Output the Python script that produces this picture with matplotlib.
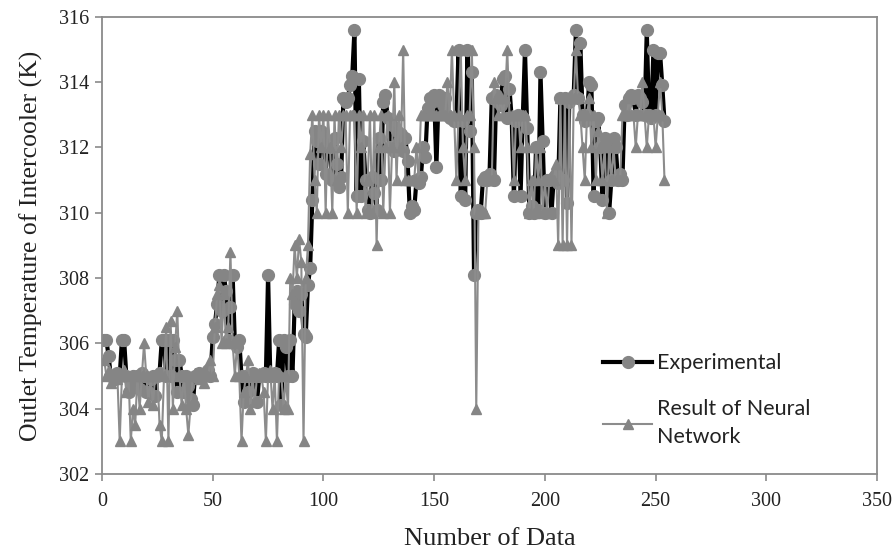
import numpy as np
import matplotlib
matplotlib.use("Agg")
import matplotlib.pyplot as plt

# Outlet temperature of the intercooler (K), one value per data sample
experimental = [
    306.1, 306.1, 305.6, 305.0, 305.0, 304.9, 305.1, 305.0, 306.1, 306.1,
    305.0, 304.5, 304.8, 305.0, 304.9, 305.0, 304.6, 305.1, 305.0, 304.5,
    304.5, 304.9, 305.0, 304.4, 305.0, 305.1, 306.1, 306.1, 305.0, 306.1,
    305.0, 306.1, 305.5, 304.5, 305.5, 305.0, 304.5, 305.0, 304.7, 304.3,
    304.1, 305.0, 305.0, 305.1, 305.0, 305.0, 305.1, 305.2, 305.0, 306.2,
    306.6, 307.2, 308.1, 307.0, 308.1, 307.6, 306.1, 307.1, 308.1, 306.0,
    305.9, 306.1, 305.0, 304.2, 305.0, 304.5, 305.0, 305.1, 305.0, 304.2,
    305.0, 305.0, 305.1, 305.0, 308.1, 305.0, 305.0, 305.1, 305.0, 306.1,
    304.1, 306.1, 305.9, 305.0, 306.1, 305.0, 307.2, 307.6, 307.0, 307.5,
    306.3, 306.2, 307.8, 308.3, 310.4, 312.5, 312.2, 311.5, 312.5, 312.3,
    311.2, 312.1, 312.0, 311.0, 312.3, 311.5, 310.8, 311.1, 313.5, 313.4,
    313.5, 313.9, 314.2, 315.6, 310.5, 314.1, 310.5, 312.2, 311.0, 310.1,
    310.0, 311.1, 310.6, 310.1, 312.3, 311.0, 313.4, 313.6, 312.9, 312.0,
    312.7, 311.9, 312.5, 312.2, 312.4, 311.9, 312.3, 311.6, 310.0, 310.2,
    310.1, 311.0, 310.9, 311.1, 312.0, 311.7, 313.2, 313.5, 313.4, 313.6,
    311.4, 313.6, 313.5, 313.3, 313.5, 313.0, 312.9, 312.9, 312.8, 312.8,
    315.0, 310.5, 312.8, 310.4, 315.0, 312.5, 314.3, 308.1, 310.0, 310.1,
    310.0, 311.0, 311.1, 311.0, 311.2, 313.5, 311.0, 313.6, 313.4, 313.3,
    314.1, 314.2, 312.9, 313.8, 312.9, 310.5, 312.8, 313.0, 310.5, 312.9,
    315.0, 312.6, 310.0, 310.2, 310.0, 312.0, 310.1, 314.3, 312.2, 310.0,
    311.0, 311.0, 310.0, 311.1, 311.2, 310.9, 313.5, 311.0, 313.5, 310.3,
    313.4, 313.5, 313.6, 315.6, 313.5, 315.2, 313.0, 312.8, 313.0, 314.0,
    313.9, 310.5, 312.8, 312.9, 312.0, 310.4, 312.3, 312.2, 310.0, 311.0,
    312.3, 312.0, 311.0, 311.2, 311.0, 313.3, 313.0, 313.5, 313.6, 313.5,
    313.0, 313.6, 313.5, 313.4, 313.0, 315.6, 313.0, 312.9, 315.0, 313.0,
    314.9, 314.9, 313.9, 312.8,
]

neural_network = [
    305.5, 305.0, 305.2, 304.8, 305.0, 305.1, 304.9, 303.0, 305.0, 305.2,
    304.5, 305.0, 303.0, 304.0, 303.5, 305.0, 304.0, 305.0, 306.0, 305.0,
    304.2, 305.0, 304.1, 305.0, 305.1, 303.5, 303.0, 305.0, 306.5, 303.0,
    306.7, 304.0, 305.9, 307.0, 305.0, 304.1, 305.0, 304.0, 303.2, 304.1,
    305.0, 305.1, 305.0, 304.9, 305.0, 304.8, 305.0, 305.0, 305.5, 305.0,
    306.5, 307.5, 307.8, 306.0, 307.5, 306.0, 306.5, 308.8, 306.0, 305.0,
    306.0, 305.0, 303.0, 304.5, 305.0, 305.5, 304.0, 305.0, 304.2, 305.0,
    305.1, 305.0, 304.5, 303.0, 305.0, 305.2, 304.0, 305.0, 303.0, 305.1,
    305.0, 304.0, 305.0, 304.0, 308.0, 307.5, 309.0, 308.0, 309.2, 308.5,
    303.0, 308.0, 309.0, 311.8, 313.0, 311.0, 310.0, 313.0, 312.0, 313.0,
    310.0, 313.0, 312.0, 310.0, 313.0, 311.0, 313.0, 312.0, 313.0, 313.0,
    310.0, 313.0, 313.0, 313.0, 310.0, 313.0, 312.0, 313.0, 310.0, 311.0,
    313.0, 310.0, 313.0, 309.0, 312.0, 313.0, 310.0, 312.0, 313.0, 310.0,
    312.0, 314.0, 311.0, 313.0, 312.0, 315.0, 311.0, 311.0, 311.0, 311.0,
    311.0, 312.0, 311.0, 313.0, 313.0, 313.0, 313.0, 313.0, 313.0, 313.0,
    313.0, 313.0, 313.0, 313.0, 313.0, 314.0, 313.0, 315.0, 313.0, 311.0,
    313.0, 315.0, 312.0, 311.0, 313.0, 313.0, 315.0, 312.0, 304.0, 310.0,
    310.0, 310.0, 310.0, 311.0, 311.0, 311.0, 314.0, 313.5, 313.0, 313.5,
    313.0, 313.5, 315.0, 313.0, 313.0, 311.0, 313.0, 313.0, 312.0, 313.0,
    313.0, 312.0, 310.0, 311.0, 310.0, 312.0, 311.0, 312.0, 310.0, 311.0,
    310.0, 311.0, 311.0, 311.0, 311.5, 309.0, 313.5, 309.0, 313.5, 309.0,
    313.5, 309.0, 313.5, 315.0, 313.5, 313.0, 312.0, 311.0, 313.0, 313.5,
    312.0, 313.0, 311.0, 312.5, 312.0, 311.0, 312.0, 310.0, 312.0, 311.0,
    312.0, 311.0, 311.0, 311.0, 313.0, 313.0, 313.0, 313.5, 313.0, 313.0,
    312.0, 313.0, 313.0, 314.0, 313.0, 312.0, 313.0, 313.0, 313.0, 312.0,
    313.0, 314.0, 313.0, 311.0,
]

samples = np.arange(1, len(experimental) + 1)

fig = plt.figure(figsize=(8.93, 5.51), dpi=100)
ax = fig.add_axes([0.1142, 0.1397, 0.8680, 0.8297])

ax.plot(samples, experimental, color='black', linewidth=3.0,
        marker='o', markersize=8.5, markerfacecolor='#858585',
        markeredgecolor='#858585', label='Experimental', zorder=2)
ax.plot(samples, neural_network, color='#8c8c8c', linewidth=1.5,
        marker='^', markersize=7.5, markerfacecolor='#858585',
        markeredgecolor='#858585', label='Result of Neural\nNetwork', zorder=3)

ax.set_xlim(0, 350)
ax.set_ylim(302, 316)
ax.set_xticks(np.arange(0, 351, 50))
ax.set_yticks(np.arange(302, 317, 2))

for side in ['left', 'bottom', 'top', 'right']:
    ax.spines[side].set_color('#8a8a8a')
    ax.spines[side].set_linewidth(1.3)

ax.tick_params(axis='both', direction='out', length=5, width=1.2,
               color='#8a8a8a', labelsize=14.5, labelcolor='#222222')
ax.tick_params(axis='x', pad=8)
ax.tick_params(axis='y', pad=4)
for lbl in ax.get_xticklabels() + ax.get_yticklabels():
    lbl.set_family('Liberation Serif')

ax.set_xlabel('Number of Data', family='Liberation Serif', fontsize=19,
              color='#222222', labelpad=12)
ax.set_ylabel('Outlet Temperature of Intercooler (K)', family='Liberation Serif',
              fontsize=18.5, color='#222222', labelpad=12)

leg = ax.legend(loc='lower left', bbox_to_anchor=(0.635, 0.04), frameon=False,
                prop={'family': 'Lato', 'size': 15.5}, handlelength=2.3,
                labelspacing=1.2, handletextpad=0.2, borderaxespad=0)
for txt in leg.get_texts():
    txt.set_color('#222222')
    txt.set_linespacing(1.5)

fig.savefig('out.png', dpi=100, facecolor='white')
